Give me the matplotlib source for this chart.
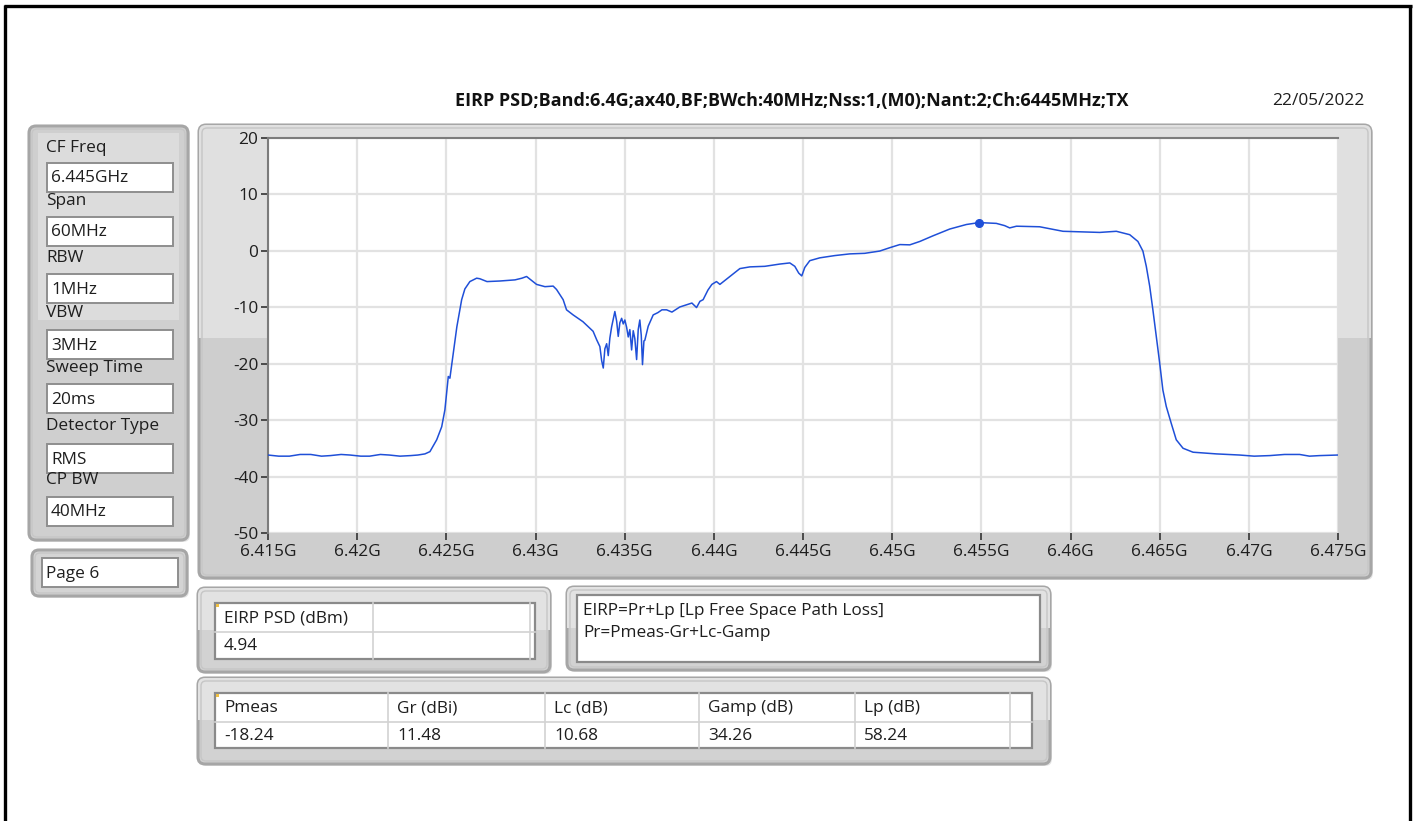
import matplotlib
matplotlib.use('Agg')
import matplotlib.pyplot as plt
from matplotlib.patches import FancyBboxPatch, Rectangle
from matplotlib.ticker import FixedLocator, FuncFormatter
import numpy as np

plt.rcParams['font.family'] = ['Open Sans', 'DejaVu Sans']
plt.rcParams['axes.unicode_minus'] = False

title = "EIRP PSD;Band:6.4G;ax40,BF;BWch:40MHz;Nss:1,(M0);Nant:2;Ch:6445MHz;TX"
date_text = "22/05/2022"

# analyzer settings shown on the left
setting_names = ["CF Freq", "Span", "RBW", "VBW", "Sweep Time", "Detector Type", "CP BW"]
setting_values = ["6.445GHz", "60MHz", "1MHz", "3MHz", "20ms", "RMS", "40MHz"]
page_label = "Page 6"

# measured trace, frequency in MHz, level in dBm
freq_mhz = [6415.0, 6415.6, 6416.2, 6416.8, 6417.4, 6418.0, 6418.5, 6419.1, 6419.6,
            6420.2, 6420.7, 6421.3, 6421.8, 6422.4, 6423.0, 6423.4, 6423.8,
            6424.08, 6424.46, 6424.74, 6424.92, 6425.11, 6425.2, 6425.39, 6425.59,
            6425.86, 6426.04, 6426.32, 6426.7, 6426.88, 6427.28, 6428.0, 6428.85,
            6429.24, 6429.5, 6429.74, 6430.06, 6430.53, 6430.99, 6431.18, 6431.55,
            6431.74, 6432.11, 6432.66, 6433.23, 6433.43, 6433.61, 6433.71, 6433.8,
            6433.89, 6433.99, 6434.08, 6434.17, 6434.27, 6434.45, 6434.55, 6434.64,
            6434.73, 6434.83, 6434.92, 6435.01, 6435.11, 6435.2, 6435.29, 6435.39,
            6435.48, 6435.57, 6435.67, 6435.76, 6435.85, 6435.93, 6436.0, 6436.08,
            6436.13, 6436.32, 6436.6, 6436.86, 6437.09, 6437.35, 6437.65, 6438.09,
            6438.47, 6438.77, 6439.03, 6439.22, 6439.4, 6439.67, 6439.89, 6440.15,
            6440.34, 6441.46, 6442.02, 6442.86, 6443.7, 6444.26, 6444.54, 6444.76,
            6444.93, 6445.1, 6445.38, 6445.94, 6446.78, 6447.62, 6448.46, 6449.3,
            6449.87, 6450.43, 6450.99, 6451.55, 6452.29, 6453.23, 6454.16, 6454.87,
            6455.84, 6456.31, 6456.59, 6456.97, 6458.27, 6459.58, 6460.52, 6461.64,
            6462.57, 6463.32, 6463.78, 6464.06, 6464.25, 6464.44, 6464.62, 6464.81,
            6465.0, 6465.18, 6465.37, 6465.65, 6465.93, 6466.31, 6466.87, 6468.18,
            6469.48, 6470.3, 6471.17, 6472.0, 6472.85, 6473.4, 6473.97, 6475.0]
psd_dbm = [-36.2, -36.4, -36.4, -36.1, -36.1, -36.4, -36.3, -36.1, -36.2,
           -36.4, -36.4, -36.1, -36.2, -36.4, -36.3, -36.2, -36.0,
           -35.6, -33.5, -31.2, -28.2, -22.3, -22.6, -18.2, -13.5,
           -8.7, -6.8, -5.5, -4.9, -5.0, -5.5, -5.4, -5.2,
           -4.9, -4.6, -5.2, -6.0, -6.4, -6.3, -6.9, -8.7,
           -10.5, -11.4, -12.6, -14.3, -15.8, -17.0, -19.5, -20.8,
           -17.4, -16.5, -18.6, -15.5, -13.5, -10.8, -12.5, -15.2,
           -12.8, -12.0, -13.0, -12.3, -13.6, -15.3, -14.0, -17.6,
           -14.2, -15.6, -19.3, -14.0, -12.3, -15.0, -20.2, -16.0,
           -15.9, -13.4, -11.4, -11.0, -10.5, -10.5, -10.9, -10.0,
           -9.6, -9.3, -10.1, -9.0, -8.7, -7.0, -6.0, -5.5,
           -6.0, -3.2, -2.9, -2.8, -2.4, -2.2, -2.8, -4.0,
           -4.5, -3.0, -1.8, -1.3, -0.9, -0.6, -0.5, -0.1,
           0.5, 1.05, 1.0, 1.6, 2.6, 3.8, 4.6, 4.94,
           4.8, 4.4, 4.0, 4.3, 4.2, 3.4, 3.3, 3.2,
           3.4, 2.8, 1.6, -0.1, -2.8, -6.3, -10.5, -15.2,
           -19.9, -24.7, -27.6, -30.6, -33.5, -35.0, -35.7, -36.0,
           -36.2, -36.4, -36.3, -36.1, -36.1, -36.4, -36.3, -36.2]
peak_mhz = 6454.87
peak_dbm = 4.94

eirp_header = ["EIRP PSD (dBm)", ""]
eirp_values = ["4.94", ""]
formula_lines = ["EIRP=Pr+Lp [Lp Free Space Path Loss]", "Pr=Pmeas-Gr+Lc-Gamp"]
loss_header = ["Pmeas", "Gr (dBi)", "Lc (dB)", "Gamp (dB)", "Lp (dB)", ""]
loss_values = ["-18.24", "11.48", "10.68", "34.26", "58.24", ""]

W, H = 1415, 821
FS = 12.4
TXT = '#1e1e1e'
LINE = '#1f4fd8'

fig = plt.figure(figsize=(W / 100, H / 100), dpi=100)
fig.patch.set_facecolor('white')
bg = fig.add_axes([0, 0, 1, 1])
bg.set_xlim(0, W)
bg.set_ylim(H, 0)
bg.axis('off')


def panel(x0, y0, x1, y1, split=None, top='#e0e0e0', bottom='#cfcfcf'):
    # rounded LabVIEW-style frame
    shadow = FancyBboxPatch((x0 + 2, y0 + 2), x1 - x0, y1 - y0,
                            boxstyle='round,pad=0,rounding_size=7',
                            fc='#e4e4e4', ec='none', zorder=1)
    bg.add_patch(shadow)
    p = FancyBboxPatch((x0, y0), x1 - x0, y1 - y0, boxstyle='round,pad=0,rounding_size=7',
                       fc=bottom, ec='#a6a6a6', lw=2.2, zorder=2)
    bg.add_patch(p)
    if split is not None:
        r = Rectangle((x0, y0), x1 - x0, split - y0, fc=top, ec='none', zorder=2)
        r.set_clip_path(p)
        bg.add_patch(r)
    inner = FancyBboxPatch((x0 + 3, y0 + 3), x1 - x0 - 6, y1 - y0 - 6,
                           boxstyle='round,pad=0,rounding_size=5',
                           fc='none', ec='#c6c6c6', lw=1.0, zorder=3)
    bg.add_patch(inner)


def field(x0, y0, x1, y1, txt):
    bg.add_patch(Rectangle((x0, y0), x1 - x0, y1 - y0, fc='white', ec='#8e8e8e', lw=1.4, zorder=4))
    bg.text(x0 + 4, (y0 + y1) / 2 + 1, txt, ha='left', va='center', fontsize=FS, color=TXT, zorder=5)


def table(x0, y0, x1, y1, cols, row_y, header, values):
    bg.add_patch(Rectangle((x0, y0), x1 - x0, y1 - y0, fc='white', ec='#8a8a8a', lw=1.6, zorder=4))
    bg.plot([x0, x1], [row_y, row_y], color='#d2d2d2', lw=1.2, zorder=5)
    for c in cols[1:-1]:
        bg.plot([c, c], [y0, y1], color='#d2d2d2', lw=1.2, zorder=5)
    bg.add_patch(Rectangle((x0 + 1, y0 + 1), 3, 3, fc='#f0c040', ec='none', zorder=6))
    for i, (h, v) in enumerate(zip(header, values)):
        bg.text(cols[i] + 9, (y0 + row_y) / 2 + 1, h, ha='left', va='center',
                fontsize=FS, color=TXT, zorder=6)
        bg.text(cols[i] + 9, (row_y + y1) / 2 + 1, v, ha='left', va='center',
                fontsize=FS, color=TXT, zorder=6)


# outer black frame of the screenshot
bg.plot([5, 5], [H, 5], color='black', lw=2.4, solid_capstyle='butt', zorder=10)
bg.plot([3.5, 1411.5], [6.5, 6.5], color='black', lw=2.4, solid_capstyle='butt', zorder=10)
bg.plot([1410, 1410], [5, H], color='black', lw=2.4, solid_capstyle='butt', zorder=10)

# title and date
bg.text(792, 101, title, ha='center', va='center', fontsize=13, fontweight='bold', color='#111111')
bg.text(1272, 101, date_text, ha='left', va='center', fontsize=FS, color=TXT)

# left settings panel
panel(29, 126, 188, 540)
bg.add_patch(Rectangle((38, 133), 141, 187, fc='#dcdcdc', ec='none', zorder=3))
label_y = [148, 201, 258, 313, 368, 426, 480]
box_y = [163, 217, 274, 330, 384, 444, 497]
for name, val, ly, by in zip(setting_names, setting_values, label_y, box_y):
    bg.text(46, ly, name, ha='left', va='center', fontsize=FS, color=TXT, zorder=6)
    field(47, by, 173, by + 29, val)

# page indicator
panel(32, 550, 187, 596, bottom='#d4d4d4')
field(42, 558, 178, 587, page_label)

# graph frame
panel(199, 125, 1371, 578, split=338, top='#e0e0e0', bottom='#cecece')

# bottom panels
panel(198, 588, 550, 672, split=630, top='#e2e2e2', bottom='#d2d2d2')
table(215, 603, 535, 659, [215, 373, 530, 535], 632, eirp_header, eirp_values)

panel(567, 587, 1050, 670, split=628, top='#e2e2e2', bottom='#d2d2d2')
bg.add_patch(Rectangle((577, 595), 463, 67, fc='white', ec='#8a8a8a', lw=1.6, zorder=4))
for i, ln in enumerate(formula_lines):
    bg.text(583, 611 + 22 * i, ln, ha='left', va='center', fontsize=FS, color=TXT, zorder=6)

panel(198, 678, 1050, 764, split=720, top='#e2e2e2', bottom='#d2d2d2')
table(215, 693, 1032, 748, [215, 388, 545, 699, 855, 1010, 1032], 722, loss_header, loss_values)

# spectrum plot
ax = fig.add_axes([268 / W, 1 - 533 / H, (1338 - 268) / W, (533 - 137.5) / H])
ax.set_zorder(5)
ax.set_facecolor('white')
x = np.array(freq_mhz) / 1000.0
ax.plot(x, psd_dbm, color=LINE, lw=1.1, zorder=3)
ax.plot([peak_mhz / 1000.0], [peak_dbm], 'o', color=LINE, ms=5.5, zorder=4)
ax.set_xlim(6.415, 6.475)
ax.set_ylim(-50, 20)
ax.xaxis.set_major_locator(FixedLocator(np.linspace(6.415, 6.475, 13)))
ax.xaxis.set_major_formatter(FuncFormatter(lambda v, _: f"{round(v, 4):g}G"))
ax.yaxis.set_major_locator(FixedLocator([-50, -40, -30, -20, -10, 0, 10, 20]))
ax.grid(True, color='#e2e2e2', lw=1.6, zorder=0)
ax.set_axisbelow(True)
for s in ['right', 'bottom']:
    ax.spines[s].set_visible(False)
for s in ['top', 'left']:
    ax.spines[s].set_color('#7c7c7c')
    ax.spines[s].set_linewidth(1.5)
ax.tick_params(axis='both', colors='#404040', width=1.3, labelsize=FS, labelcolor=TXT)
ax.tick_params(axis='y', length=5, pad=2)
ax.tick_params(axis='x', length=5, pad=3)

fig.savefig('out.png', dpi=100)
